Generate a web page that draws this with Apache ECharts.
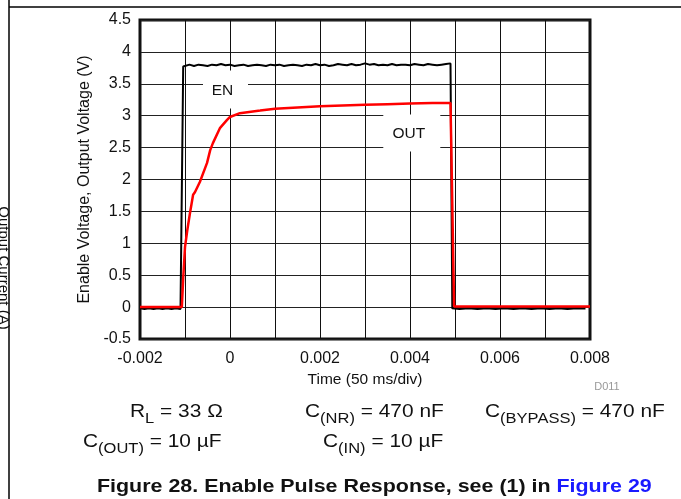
<!DOCTYPE html>
<html>
<head>
<meta charset="utf-8">
<style>
  html, body { margin: 0; padding: 0; background: #fff; }
  #chart { width: 681px; height: 499px; }
</style>
<script src="https://cdn.jsdelivr.net/npm/echarts@6/dist/echarts.min.js"></script>
</head>
<body>
<div id="chart"></div>
<script>
// EN trace (black), time in s, volts
var enTime = [-0.002, -0.0019, -0.0018, -0.0017, -0.0016, -0.0015, -0.0014, -0.0013, -0.0012, -0.0011, -0.00108,
  -0.00104, -0.001, -0.0009, -0.0008, -0.0007, -0.0006, -0.0005, -0.0004, -0.0003, -0.0002, -0.0001, 0,
  0.0001, 0.0002, 0.0003, 0.0004, 0.0005, 0.0006, 0.0007, 0.0008, 0.0009, 0.001, 0.0011, 0.0012, 0.0013,
  0.0014, 0.0015, 0.0016, 0.0017, 0.0018, 0.0019, 0.002, 0.0021, 0.0022, 0.0023, 0.0024, 0.0025, 0.0026,
  0.0027, 0.0028, 0.0029, 0.003, 0.0031, 0.0032, 0.0033, 0.0034, 0.0035, 0.0036, 0.0037, 0.0038, 0.0039,
  0.004, 0.0041, 0.0042, 0.0043, 0.0044, 0.0045, 0.0046, 0.0047, 0.0048, 0.0049, 0.00491,
  0.00494, 0.0051, 0.0053, 0.0055, 0.0057, 0.0059, 0.0061, 0.0063, 0.0065, 0.0067, 0.0069, 0.0071,
  0.0073, 0.0075, 0.0077, 0.0079, 0.008]
var enVolt = [-0.02, -0.03, -0.02, -0.03, -0.02, -0.03, -0.02, -0.03, -0.02, -0.03, -0.02,
  3.77, 3.79, 3.8, 3.78, 3.8, 3.79, 3.78, 3.8, 3.79, 3.81, 3.79, 3.8,
  3.78, 3.79, 3.8, 3.78, 3.79, 3.8, 3.79, 3.78, 3.8, 3.79, 3.8, 3.78, 3.79,
  3.8, 3.79, 3.78, 3.8, 3.79, 3.81, 3.79, 3.8, 3.78, 3.79, 3.81, 3.8, 3.79,
  3.81, 3.79, 3.8, 3.82, 3.8, 3.81, 3.79, 3.8, 3.79, 3.81, 3.79, 3.8, 3.8,
  3.79, 3.81, 3.8, 3.79, 3.81, 3.8, 3.79, 3.8, 3.81, 3.82, 3.8,
  -0.02, -0.03, -0.02, -0.03, -0.02, -0.03, -0.02, -0.03, -0.02, -0.03, -0.02,
  -0.03, -0.02, -0.03, -0.02, -0.02]

// OUT trace (red)
var outTime = [-0.002, -0.00107, -0.00104, -0.001, -0.00095, -0.00089, -0.00082, -0.00078, -0.00067, -0.00051,
  -0.00044, -0.00038, -0.00022, -0.00007, 0, 0.00022, 0.00067, 0.001, 0.0015, 0.002, 0.0025, 0.003,
  0.0035, 0.004, 0.0045, 0.0049, 0.00494, 0.00498, 0.008]
var outVolt = [0.0, 0.0, 0.45, 0.94, 1.2, 1.47, 1.76, 1.8, 1.96, 2.26,
  2.46, 2.57, 2.81, 2.93, 2.98, 3.04, 3.08, 3.11, 3.13, 3.15, 3.16, 3.17,
  3.18, 3.19, 3.2, 3.2, 1.6, 0.01, 0.01]

// trace labels: [x, y, text]
var traceLabels = [[-0.0001, 3.41, 'EN'], [0.00404, 2.73, 'OUT']]

function pairs(xs, ys) {
  return xs.map(function (x, i) { return [x, ys[i]] })
}

var chart = echarts.init(document.getElementById('chart'))
var font = 'Liberation Sans, Arial, sans-serif'

// condition text below the plot, base + subscript
function condText(x, y, base, sub, rest) {
  return {
    type: 'text', x: x, y: y, scaleX: 1.1,
    style: {
      text: '{n|' + base + '}{s|' + sub + '}{n|' + rest + '}', fontFamily: font,
      align: 'left', verticalAlign: 'top',
      rich: { n: { fontSize: 19, fill: '#111' }, s: { fontSize: 15, fill: '#111', padding: [13, 0, 0, 0] } }
    }
  }
}

chart.setOption({
  animation: false,
  grid: {
    left: 140, top: 20, right: 91, bottom: 160,
    show: true, borderColor: '#111', borderWidth: 3
  },
  xAxis: {
    type: 'value',
    min: -0.002, max: 0.008, interval: 0.002,
    name: 'Time (50 ms/div)', nameLocation: 'middle', nameGap: 29,
    nameTextStyle: { fontFamily: font, fontSize: 15.5, color: '#111' },
    axisLine: { show: false },
    axisTick: { show: false },
    minorTick: { show: false, splitNumber: 2 },
    minorSplitLine: { show: true, lineStyle: { color: '#111', width: 1 } },
    splitLine: { show: true, lineStyle: { color: '#111', width: 1 } },
    axisLabel: {
      margin: 12, fontFamily: font, fontSize: 16, color: '#111',
      formatter: function (v) { return String(+v.toFixed(3)) }
    }
  },
  yAxis: {
    type: 'value',
    min: -0.5, max: 4.5, interval: 0.5,
    name: 'Enable Voltage, Output Voltage (V)', nameLocation: 'middle', nameGap: 47,
    nameTextStyle: { fontFamily: font, fontSize: 16, color: '#111' },
    axisLine: { show: false },
    axisTick: { show: false },
    splitLine: { show: true, lineStyle: { color: '#222', width: 1 } },
    axisLabel: { margin: 9, fontFamily: font, fontSize: 16, color: '#111' }
  },
  series: [
    {
      name: 'EN', type: 'line', data: pairs(enTime, enVolt), showSymbol: false,
      lineStyle: { color: '#000', width: 2 }, z: 3,
      markPoint: {
        symbol: 'rect',
        symbolSize: function (v, p) { return p.name === 'OUT' ? [57, 37] : [45, 38] },
        itemStyle: { color: '#fff' },
        label: { show: true, fontFamily: font, fontSize: 15.5, color: '#111', formatter: '{b}', offset: [-3, 1] },
        data: traceLabels.map(function (t) { return { name: t[2], coord: [t[0], t[1]] } })
      }
    },
    {
      name: 'OUT', type: 'line', data: pairs(outTime, outVolt), showSymbol: false,
      lineStyle: { color: '#ff0000', width: 2.5 }, z: 4
    }
  ],
  graphic: [
    { type: 'line', shape: { x1: 9, y1: 0, x2: 9, y2: 499 }, style: { stroke: '#000', lineWidth: 1.5 } },
    { type: 'line', shape: { x1: 9, y1: 7, x2: 681, y2: 7 }, style: { stroke: '#000', lineWidth: 1.5 } },
    {
      type: 'text', x: 3, y: 268, rotation: -Math.PI / 2,
      style: { text: 'Output Current (A)', fontFamily: font, fontSize: 15, fill: '#111', align: 'center', verticalAlign: 'middle' }
    },
    {
      type: 'text', x: 607, y: 387,
      style: { text: 'D011', fontFamily: font, fontSize: 11, fill: '#999', align: 'center', verticalAlign: 'middle' }
    },
    condText(130, 398, 'R', 'L', ' = 33 Ω'),
    condText(305, 398, 'C', '(NR)', ' = 470 nF'),
    condText(485, 398, 'C', '(BYPASS)', ' = 470 nF'),
    condText(83, 428, 'C', '(OUT)', ' = 10 µF'),
    condText(323, 428, 'C', '(IN)', ' = 10 µF'),
    {
      type: 'text', x: 97, y: 478, scaleX: 1.19,
      style: {
        text: '{b|Figure 28. Enable Pulse Response, see (1) in }{l|Figure 29}', fontFamily: font,
        align: 'left', verticalAlign: 'top',
        rich: {
          b: { fontSize: 18, fontWeight: 'bold', fill: '#111' },
          l: { fontSize: 18, fontWeight: 'bold', fill: '#1a1aff' }
        }
      }
    }
  ]
})
</script>
</body>
</html>
